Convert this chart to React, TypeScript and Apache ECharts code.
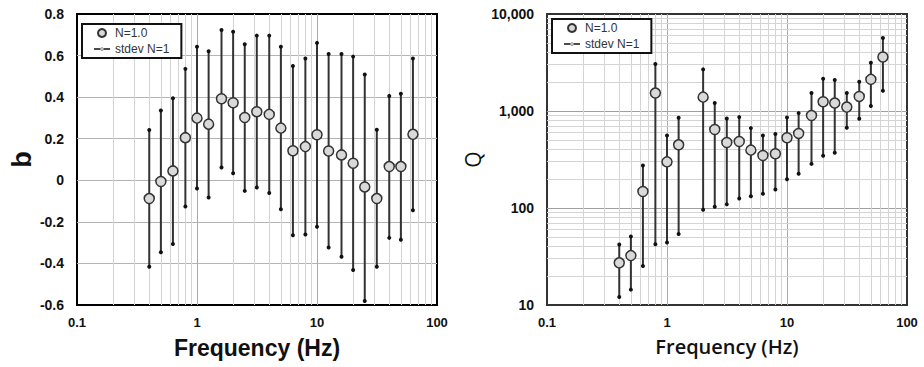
import React, { useEffect, useRef } from "react";
import * as echarts from "echarts";

// ---- data ----
const freqB = [0.4, 0.5, 0.63, 0.8, 1, 1.25, 1.6, 2, 2.5, 3.15, 4, 5, 6.3, 8, 10, 12.5, 16, 20, 25, 31.5, 40, 50, 63];
const bMean = [-0.088, -0.006, 0.045, 0.205, 0.299, 0.27, 0.392, 0.373, 0.302, 0.33, 0.317, 0.251, 0.142, 0.162, 0.219, 0.141, 0.122, 0.082, -0.032, -0.088, 0.066, 0.066, 0.221];
const bUpper = [0.242, 0.336, 0.395, 0.536, 0.642, 0.621, 0.723, 0.715, 0.654, 0.696, 0.696, 0.642, 0.55, 0.586, 0.661, 0.608, 0.608, 0.595, 0.509, 0.243, 0.406, 0.416, 0.586];
const bLower = [-0.416, -0.346, -0.307, -0.126, -0.04, -0.083, 0.062, 0.034, -0.051, -0.035, -0.061, -0.139, -0.264, -0.261, -0.224, -0.323, -0.368, -0.432, -0.581, -0.416, -0.277, -0.286, -0.144];

const freqQ = [0.4, 0.5, 0.63, 0.8, 1, 1.25, 2, 2.5, 3.15, 4, 5, 6.3, 8, 10, 12.5, 16, 20, 25, 31.5, 40, 50, 63];
const qMean = [27.2, 32.3, 148, 1531, 299, 448, 1390, 645, 474, 485, 395, 348, 362, 530, 587, 899, 1245, 1207, 1097, 1413, 2118, 3600];
const qUpper = [42, 50.8, 274, 3050, 560, 851, 2685, 1207, 838, 865, 666, 560, 578, 858, 951, 1531, 2152, 2083, 1531, 2003, 3147, 5650];
const qLower = [12.1, 14.4, 25.3, 42.3, 44, 54, 95.7, 103, 109, 125, 132, 140, 155, 198, 225, 285, 345, 371, 671, 831, 1124, 1618];

const meanName = "N=1.0";
const stdevName = "stdev N=1";
const xName = "Frequency (Hz)";
const freqDecades = [0.1, 1, 10];
const qDecades = [10, 100, 1000];
const minorMultipliers = [2, 3, 4, 5, 6, 7, 8, 9];

const FONT = 'Arial, "Liberation Sans", sans-serif';
const LINE_ICON = "path://M0,3.3L16,3.3L16,4.7L0,4.7Z M6.4,4a1.6,1.6 0 1,0 3.2,0a1.6,1.6 0 1,0 -3.2,0Z";

const minorValues = (decades: number[]) => {
  const out: number[] = [];
  decades.forEach((d) => minorMultipliers.forEach((m) => out.push(+(d * m).toPrecision(6))));
  return out;
};

const renderErrorBar = (params: any, api: any) => {
  const x = api.value(0);
  const lo = api.coord([x, api.value(1)]);
  const hi = api.coord([x, api.value(2)]);
  return {
    type: "group",
    children: [
      { type: "line", shape: { x1: hi[0], y1: hi[1], x2: lo[0], y2: lo[1] }, style: { stroke: "#333", lineWidth: 2 } },
      { type: "circle", shape: { cx: hi[0], cy: hi[1], r: 2 }, style: { fill: "#111" } },
      { type: "circle", shape: { cx: lo[0], cy: lo[1], r: 2 }, style: { fill: "#111" } },
    ],
  };
};

const xLabelFmt = (v: number) => (v < 1 ? v.toFixed(1) : String(Math.round(v)));

function buildOption() {
  const minorX = minorValues(freqDecades);
  const minorQ = minorValues(qDecades);
  const gridLineMinor = { color: "#d4d4d4", width: 1, type: "solid" as const };

  const legendBase = {
    orient: "vertical",
    z: 20,
    data: [
      { name: meanName, icon: "circle" },
      { name: stdevName, icon: LINE_ICON, itemStyle: { color: "#111" } },
    ],
    padding: [3, 12, 3, 12],
    itemWidth: 16,
    itemHeight: 8,
    itemGap: 4,
    borderColor: "#111",
    borderWidth: 2,
    backgroundColor: "#fff",
    selectedMode: false,
    textStyle: { fontSize: 12, color: "#333", fontFamily: FONT },
  };

  const xAxisBase = (gridIndex: number, nameFont: any) => ({
    type: "log",
    gridIndex,
    logBase: 10,
    min: 0.1,
    max: 100,
    name: xName,
    nameLocation: "middle",
    nameGap: 31,
    nameTextStyle: nameFont,
    axisLine: { show: false },
    axisTick: { show: false },
    axisLabel: { margin: 11, fontSize: 13, fontWeight: "bold", color: "#111", fontFamily: FONT, formatter: xLabelFmt },
    splitLine: { show: true, showMinLine: false, showMaxLine: false, lineStyle: { color: "#aaa", width: 1 } },
  });

  const minorMarkLine = (data: any[]) => ({
    silent: true,
    z: 1,
    symbol: "none",
    label: { show: false },
    lineStyle: gridLineMinor,
    emphasis: { disabled: true },
    data,
  });

  return {
    animation: false,
    backgroundColor: "#fff",
    grid: [
      { left: 77, top: 14, width: 360, height: 291, show: true, borderColor: "#000", borderWidth: 2, backgroundColor: "transparent" },
      { left: 547, top: 14, width: 360, height: 291, show: true, borderColor: "#333", borderWidth: 2, backgroundColor: "transparent" },
    ],
    legend: [
      { ...legendBase, left: 82, top: 24 },
      { ...legendBase, left: 552, top: 19 },
    ],
    xAxis: [
      xAxisBase(0, { fontSize: 23, fontWeight: "bold", color: "#111", fontFamily: FONT }),
      xAxisBase(1, { fontSize: 20, fontWeight: 600, color: "#111", fontFamily: '"Open Sans", sans-serif' }),
    ],
    yAxis: [
      {
        type: "value",
        gridIndex: 0,
        min: -0.6,
        max: 0.8,
        interval: 0.2,
        name: "b",
        nameLocation: "middle",
        nameGap: 42,
        nameTextStyle: { fontSize: 27, fontWeight: "bold", color: "#111", fontFamily: FONT },
        axisLine: { show: false },
        axisTick: { show: false },
        axisLabel: {
          margin: 13,
          fontSize: 14,
          fontWeight: "bold",
          color: "#111",
          fontFamily: FONT,
          formatter: (v: number) => (Math.abs(v) < 1e-9 ? "0" : String(Math.round(v * 10) / 10)),
        },
        splitLine: { show: true, showMinLine: false, showMaxLine: false, lineStyle: { color: "#b4b4b4", width: 1 } },
      },
      {
        type: "log",
        gridIndex: 1,
        logBase: 10,
        min: 10,
        max: 10000,
        name: "Q",
        nameLocation: "middle",
        nameGap: 64,
        nameTextStyle: { fontSize: 21, color: "#111", fontFamily: '"Open Sans", sans-serif' },
        axisLine: { show: false },
        axisTick: { show: false },
        axisLabel: {
          margin: 13,
          fontSize: 14,
          fontWeight: "bold",
          color: "#111",
          fontFamily: FONT,
          formatter: (v: number) => Math.round(v).toLocaleString("en-US"),
        },
        splitLine: { show: true, showMinLine: false, showMaxLine: false, lineStyle: { color: "#a0a0a0", width: 1 } },
      },
    ],
    series: [
      {
        type: "line",
        name: "_gridB",
        xAxisIndex: 0,
        yAxisIndex: 0,
        data: [],
        z: 1,
        silent: true,
        markLine: minorMarkLine(minorX.map((v) => ({ xAxis: v }))),
      },
      {
        type: "line",
        name: "_gridQ",
        xAxisIndex: 1,
        yAxisIndex: 1,
        data: [],
        z: 1,
        silent: true,
        markLine: minorMarkLine([...minorX.map((v) => ({ xAxis: v })), ...minorQ.map((v) => ({ yAxis: v }))]),
      },
      {
        type: "custom",
        name: stdevName,
        xAxisIndex: 0,
        yAxisIndex: 0,
        z: 3,
        itemStyle: { color: "#111" },
        renderItem: renderErrorBar,
        encode: { x: 0, y: [1, 2] },
        data: freqB.map((f, i) => [f, bLower[i], bUpper[i]]),
      },
      {
        type: "scatter",
        name: meanName,
        xAxisIndex: 0,
        yAxisIndex: 0,
        z: 4,
        symbol: "circle",
        symbolSize: 10,
        itemStyle: { color: "#d9d9d9", borderColor: "#333", borderWidth: 1.5, opacity: 1 },
        data: freqB.map((f, i) => [f, bMean[i]]),
      },
      {
        type: "custom",
        name: stdevName,
        xAxisIndex: 1,
        yAxisIndex: 1,
        z: 3,
        itemStyle: { color: "#111" },
        renderItem: renderErrorBar,
        encode: { x: 0, y: [1, 2] },
        data: freqQ.map((f, i) => [f, qLower[i], qUpper[i]]),
      },
      {
        type: "scatter",
        name: meanName,
        xAxisIndex: 1,
        yAxisIndex: 1,
        z: 4,
        symbol: "circle",
        symbolSize: 10,
        itemStyle: { color: "#d9d9d9", borderColor: "#333", borderWidth: 1.5, opacity: 1 },
        data: freqQ.map((f, i) => [f, qMean[i]]),
      },
    ],
  };
}

export default function App() {
  const ref = useRef<HTMLDivElement>(null);
  useEffect(() => {
    if (!ref.current) return;
    const chart = echarts.init(ref.current, null, { renderer: "svg" });
    chart.setOption(buildOption() as any);
    return () => chart.dispose();
  }, []);
  return (
    <div
      ref={ref}
      style={{ position: "fixed", left: 0, top: 0, width: 924, height: 367, background: "#fff" }}
    />
  );
}
